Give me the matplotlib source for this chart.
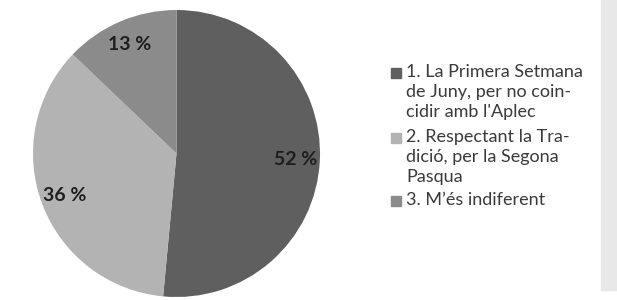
import matplotlib.pyplot as plt
from matplotlib.patches import Rectangle

labels = ["1. La Primera Setmana\nde Juny, per no coin-\ncidir amb l'Aplec",
          "2. Respectant la Tra-\ndició, per la Segona\nPasqua",
          "3. M\u2019és indiferent"]
values = [52, 36, 13]
pct_labels = ["52 %", "36 %", "13 %"]
colors = ["#5f5f5f", "#b3b3b3", "#8b8b8b"]

plt.rcParams['font.family'] = ['Lato', 'DejaVu Sans']

fig = plt.figure(figsize=(6.17, 3.0), dpi=100)
fig.patch.set_facecolor("white")

# grey strip on the right edge
fig.patches.append(Rectangle((601 / 617, 10 / 300), 16 / 617, 290 / 300,
                             transform=fig.transFigure, color="#e8e8e8", zorder=0))

ax = fig.add_axes([33 / 617, 3 / 300, 287 / 617, 287 / 300])
it = iter(pct_labels)
wedges, _, autotexts = ax.pie(values, colors=colors, startangle=90, counterclock=False,
                              autopct=lambda p: next(it), pctdistance=0.83,
                              wedgeprops=dict(linewidth=0))
for t in autotexts:
    t.set_fontsize(14)
    t.set_fontweight("bold")
    t.set_color("#1e1e1e")
ax.set_xlim(-1, 1)
ax.set_ylim(-1, 1)
ax.set_aspect("equal")

# legend drawn by hand so the square sits on the first line
tops = [73, 138, 201]
for lab, col, y in zip(labels, colors, tops):
    fig.patches.append(Rectangle((391 / 617, 1 - (y + 5) / 300), 10 / 617, 10 / 300,
                                 transform=fig.transFigure, color=col))
    fig.text(406 / 617, 1 - (y - 9) / 300, lab, fontsize=13, color="#3a3a3a",
             va="top", ha="left", linespacing=1.3)

fig.savefig("out.png", dpi=100)
